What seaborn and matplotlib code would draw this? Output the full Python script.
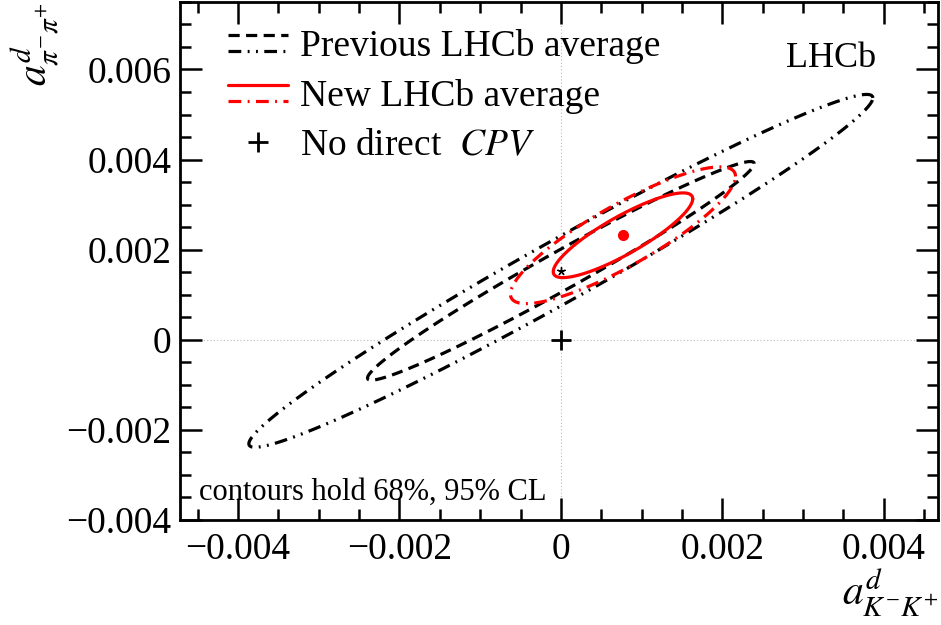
import numpy as np
import matplotlib
matplotlib.use("Agg")
import matplotlib.pyplot as plt
import seaborn as sns
from matplotlib.lines import Line2D
from matplotlib.legend_handler import HandlerBase

# values (central values, 1 sigma errors, correlation)
prev_center = [0.0, 0.00153]
prev_sigma = [0.00158, 0.00160]
prev_rho = 0.98

new_center = [0.00077, 0.00232]
new_sigma = [0.00057, 0.00062]
new_rho = 0.86

# delta chi2 for 68% and 95% CL in two dimensions
cl_levels = [2.30, 5.99]

xticks = [-0.004, -0.002, 0.0, 0.002, 0.004]
xtick_labels = ["\u22120.004", "\u22120.002", "0", "0.002", "0.004"]
yticks = [-0.004, -0.002, 0.0, 0.002, 0.004, 0.006]
ytick_labels = ["\u22120.004", "\u22120.002", "0", "0.002", "0.004", "0.006"]


def contour(center, sigma, rho, dchi2, n=400):
    t = np.linspace(0, 2 * np.pi, n)
    k = np.sqrt(dchi2)
    x = center[0] + k * sigma[0] * np.cos(t)
    y = center[1] + k * sigma[1] * (rho * np.cos(t) + np.sqrt(1 - rho**2) * np.sin(t))
    return x, y


class TwoLineHandler(HandlerBase):
    # draws the 68% line above the 95% line, like the ROOT legend
    def create_artists(self, legend, orig_handle, xdescent, ydescent,
                       width, height, fontsize, trans):
        out = []
        for h, frac in zip(orig_handle, (0.8, 0.2)):
            y = -ydescent + frac * height
            ln = Line2D([0, 1], [0, 1])
            ln.update_from(h)
            ln.set_data([-xdescent, -xdescent + width], [y, y])
            ln.set_transform(trans)
            out.append(ln)
        return out


sns.set_theme(style="ticks")
plt.rcParams["font.family"] = ["Liberation Serif", "DejaVu Serif"]
plt.rcParams["mathtext.fontset"] = "stix"
for key in ["text.color", "axes.labelcolor", "xtick.color", "ytick.color", "axes.edgecolor"]:
    plt.rcParams[key] = "black"

fig = plt.figure(figsize=(9.41, 6.25), dpi=100)
ax = fig.add_axes([0.1913, 0.168, 0.806, 0.829])

ls_prev = [(0, (3.5, 2.0)), (0, (4.0, 2.0, 0.6, 2.0, 0.6, 2.0))]
ls_new = ["-", (0, (4.0, 2.0, 0.6, 2.0))]
lw = 2.3

ax.axhline(0, color="#bbbbbb", lw=0.8, ls=(0, (1, 2)), zorder=0)
ax.axvline(0, color="#bbbbbb", lw=0.8, ls=(0, (1, 2)), zorder=0)

prev_lines = []
new_lines = []
for dchi2, lsp, lsn in zip(cl_levels, ls_prev, ls_new):
    x, y = contour(prev_center, prev_sigma, prev_rho, dchi2)
    sns.lineplot(x=x, y=y, sort=False, estimator=None, color="black",
                 linestyle=lsp, lw=lw, ax=ax, legend=False)
    prev_lines.append(ax.lines[-1])
    x, y = contour(new_center, new_sigma, new_rho, dchi2)
    sns.lineplot(x=x, y=y, sort=False, estimator=None, color="red",
                 linestyle=lsn, lw=lw, ax=ax, legend=False)
    new_lines.append(ax.lines[-1])

ax.plot([prev_center[0]], [prev_center[1]], marker=(5, 2, 0), color="black",
        ms=6, mew=1, ls="none")
ax.plot([new_center[0]], [new_center[1]], marker="o", color="red", ms=7, ls="none")
cross, = ax.plot([0], [0], marker="+", color="black", ms=15, mew=2, ls="none")

ax.set_xlim(-0.00472, 0.00468)
ax.set_ylim(-0.004, 0.0075)
ax.set_xticks(xticks, xtick_labels)
ax.set_yticks(yticks, ytick_labels)
ax.xaxis.set_minor_locator(matplotlib.ticker.MultipleLocator(0.0005))
ax.yaxis.set_minor_locator(matplotlib.ticker.MultipleLocator(0.0005))
ax.tick_params(which="both", direction="in", top=True, right=True,
               labelsize=27, width=1.8, colors="black")
ax.tick_params(axis="x", which="major", length=16, pad=9)
ax.tick_params(axis="y", which="major", length=16, pad=6)
ax.tick_params(which="minor", length=8)
for s in ax.spines.values():
    s.set_linewidth(2)
    s.set_color("black")

ax.set_xlabel(r"$a^{d}_{K^{-}K^{+}}$", fontsize=30, loc="right")
ax.set_ylabel(r"$a^{d}_{\pi^{-}\pi^{+}}$", fontsize=30, loc="top")
ax.xaxis.set_label_coords(1.0, -0.09)
ax.yaxis.set_label_coords(-0.155, 1.0)

ax.text(0.918, 0.89, "LHCb", transform=ax.transAxes, fontsize=26,
        ha="right", va="center")
ax.text(0.025, 0.053, "contours hold 68%, 95% CL", transform=ax.transAxes,
        fontsize=22, ha="left", va="center")

ax.legend([tuple(prev_lines), tuple(new_lines), cross],
          ["Previous LHCb average", "New LHCb average", r"No direct  $\mathit{CPV}$"],
          handler_map={tuple: TwoLineHandler()}, loc="upper left",
          bbox_to_anchor=(0.044, 0.977), frameon=False, fontsize=27,
          handlelength=1.6, handletextpad=0.3, labelspacing=0.4,
          borderaxespad=0.0)

fig.savefig("out.png", dpi=100)
